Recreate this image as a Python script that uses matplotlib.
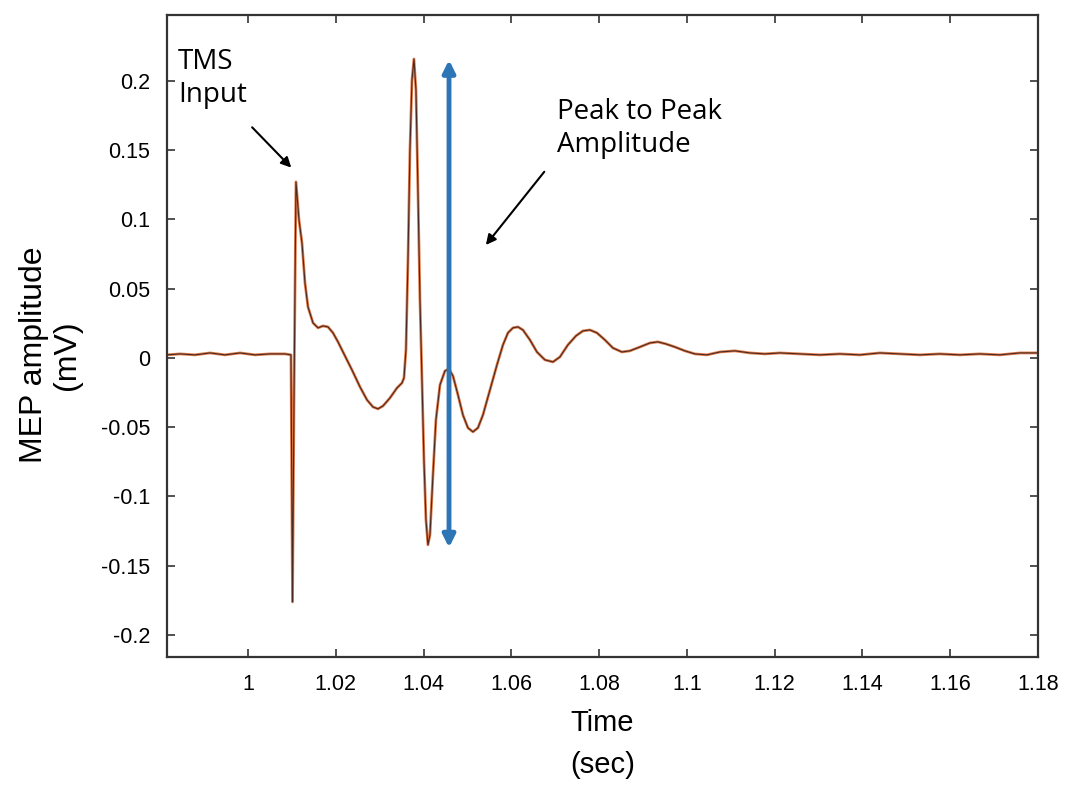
import numpy as np
import matplotlib.pyplot as plt

# MEP trace
t = [0.98155, 0.98451, 0.98793, 0.99134, 0.99476, 0.99818, 1.00159, 1.00501, 1.00843,
     1.00979, 1.01014, 1.01048, 1.01093, 1.01162, 1.01230, 1.01298, 1.01367, 1.01481,
     1.01595, 1.01708, 1.01822, 1.01936, 1.02050, 1.02210, 1.02369, 1.02551, 1.02711,
     1.02847, 1.02961, 1.03075, 1.03235, 1.03394, 1.03508, 1.03554, 1.03599, 1.03645,
     1.03690, 1.03736, 1.03781, 1.03827, 1.03872, 1.03918, 1.03964, 1.04009, 1.04055,
     1.04100, 1.04146, 1.04214, 1.04282, 1.04374, 1.04487, 1.04579, 1.04670, 1.04784,
     1.04897, 1.05011, 1.05125, 1.05239, 1.05353, 1.05513, 1.05672, 1.05809, 1.05923,
     1.06036, 1.06150, 1.06264, 1.06424, 1.06583, 1.06765, 1.06948, 1.07107, 1.07289,
     1.07472, 1.07631, 1.07790, 1.07950, 1.08132, 1.08314, 1.08519, 1.08702, 1.08929,
     1.09157, 1.09339, 1.09522, 1.09727, 1.09954, 1.10182, 1.10456, 1.10752, 1.11093,
     1.11435, 1.11777, 1.12118, 1.12574, 1.13030, 1.13485, 1.13941, 1.14396, 1.14852,
     1.15308, 1.15763, 1.16219, 1.16674, 1.17130, 1.17585, 1.18000]
v = [0.0022, 0.0029, 0.0022, 0.0036, 0.0022, 0.0036, 0.0022, 0.0029, 0.0029,
     0.0022, -0.1762, -0.0300, 0.1271, 0.0996, 0.0830, 0.0542, 0.0368, 0.0253,
     0.0217, 0.0231, 0.0224, 0.0181, 0.0116, 0.0014, -0.0087, -0.0209, -0.0303,
     -0.0354, -0.0368, -0.0347, -0.0289, -0.0217, -0.0181, -0.0144, 0.0058, 0.0708,
     0.1502, 0.2007, 0.2159, 0.1935, 0.1213, 0.0419, -0.0159, -0.0736, -0.1170,
     -0.1350, -0.1278, -0.0845, -0.0448, -0.0195, -0.0094, -0.0079, -0.0130, -0.0267,
     -0.0412, -0.0505, -0.0534, -0.0505, -0.0412, -0.0231, -0.0051, 0.0094, 0.0181,
     0.0217, 0.0224, 0.0202, 0.0130, 0.0043, -0.0014, -0.0029, 0.0007, 0.0094,
     0.0159, 0.0195, 0.0202, 0.0181, 0.0130, 0.0072, 0.0043, 0.0051, 0.0079,
     0.0108, 0.0116, 0.0101, 0.0079, 0.0051, 0.0029, 0.0022, 0.0043, 0.0051,
     0.0036, 0.0029, 0.0036, 0.0029, 0.0022, 0.0029, 0.0022, 0.0036, 0.0029,
     0.0022, 0.0029, 0.0022, 0.0029, 0.0022, 0.0036, 0.0036]

xticks = [1, 1.02, 1.04, 1.06, 1.08, 1.1, 1.12, 1.14, 1.16, 1.18]
xlabels = ['1', '1.02', '1.04', '1.06', '1.08', '1.1', '1.12', '1.14', '1.16', '1.18']
yticks = [-0.2, -0.15, -0.1, -0.05, 0, 0.05, 0.1, 0.15, 0.2]
ylabels = ['-0.2', '-0.15', '-0.1', '-0.05', '0', '0.05', '0.1', '0.15', '0.2']

# peak-to-peak arrow (time, top, bottom)
p2p_t = 1.0458
p2p_top = 0.2152
p2p_bot = -0.1370

plt.rcParams['font.family'] = ['Liberation Sans', 'DejaVu Sans']

fig = plt.figure(figsize=(10.68, 7.87), dpi=100)
ax = fig.add_axes([0.1564, 0.1652, 0.8155, 0.8158])

ax.plot(t, v, color='#e07a4a', lw=2.0)
ax.plot(t, v, color='#4a2a20', lw=0.8)

ax.annotate('', xy=(p2p_t, p2p_bot), xytext=(p2p_t, p2p_top),
            arrowprops=dict(arrowstyle='<|-|>', color='#2e75b6', lw=3.5,
                            mutation_scale=18, shrinkA=0, shrinkB=0))

ax.annotate('', xy=(1.0103, 0.136), xytext=(1.0005, 0.168),
            arrowprops=dict(arrowstyle='-|>', color='black', lw=1.5, mutation_scale=15))
ax.annotate('', xy=(1.0538, 0.080), xytext=(1.0679, 0.136),
            arrowprops=dict(arrowstyle='-|>', color='black', lw=1.5, mutation_scale=15))

ax.text(0.9840, 0.2240, 'TMS\nInput', fontsize=20, family='Open Sans', va='top',
        linespacing=1.25)
ax.text(1.0705, 0.1880, 'Peak to Peak\nAmplitude', fontsize=20, family='Open Sans',
        va='top', linespacing=1.25)

ax.set_xlim(0.98155, 1.18)
ax.set_ylim(-0.216, 0.2477)
ax.set_xticks(xticks)
ax.set_xticklabels(xlabels)
ax.set_yticks(yticks)
ax.set_yticklabels(ylabels)
ax.tick_params(direction='in', top=True, right=True, length=6, width=1.2,
               labelsize=15.5, pad=12, color='#333333')
for s in ax.spines.values():
    s.set_linewidth(1.6)
    s.set_color('#333333')

ax.set_xlabel('Time\n(sec)', fontsize=21, labelpad=10, linespacing=1.65)
ax.set_ylabel('MEP amplitude\n(mV)', fontsize=23, labelpad=14, linespacing=1.1)
ax.yaxis.label.set_y(0.47)

fig.savefig('out.png', dpi=100)
